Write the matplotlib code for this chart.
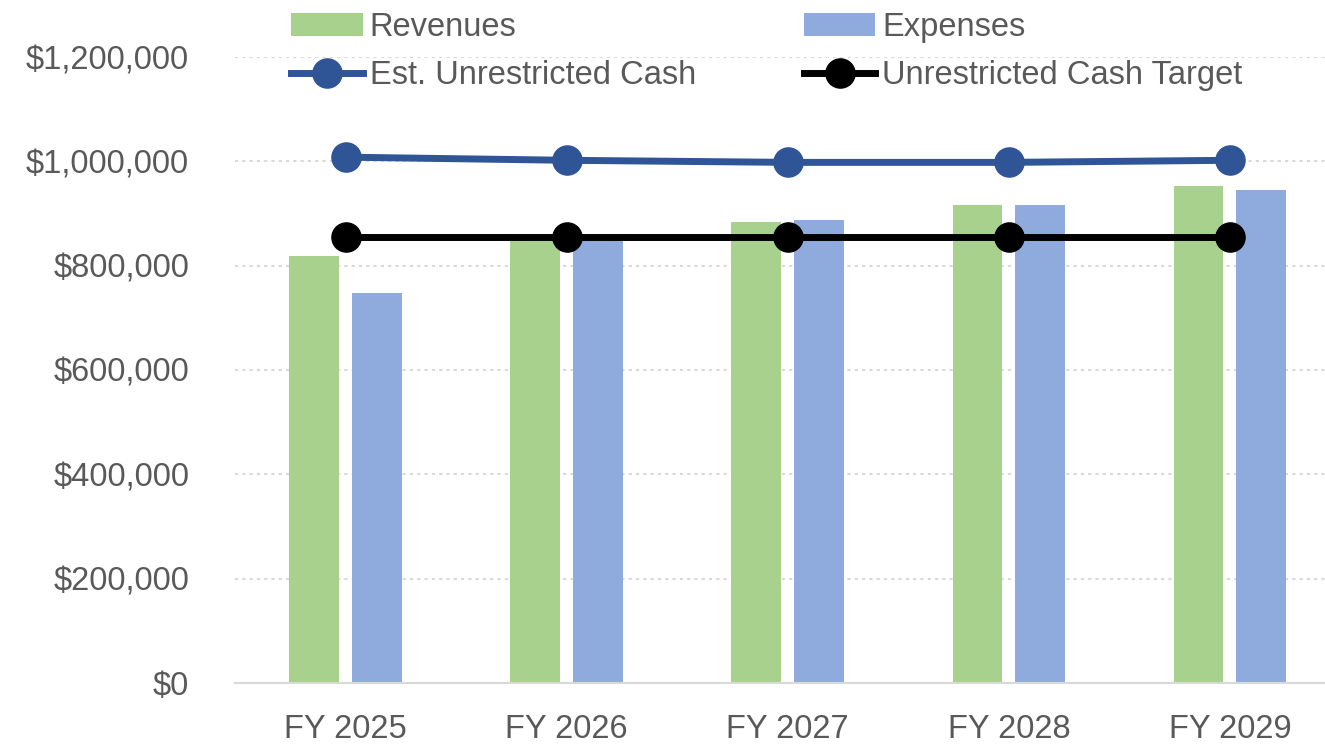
import matplotlib
matplotlib.use("Agg")
import matplotlib.pyplot as plt
import numpy as np

plt.rcParams["font.family"] = ["Liberation Sans", "DejaVu Sans"]

years    = ["FY 2025", "FY 2026", "FY 2027", "FY 2028", "FY 2029"]
revenues = [818000, 850000, 883000, 917000, 952000]
expenses = [747000, 850000, 887000, 916000, 945000]
est_cash = [1008000, 1002000, 998000, 998000, 1002000]
target   = [854000, 854000, 854000, 854000, 854000]

TXT = "#595959"
fig = plt.figure(figsize=(13.25, 7.44), dpi=100)
ax = fig.add_axes([235 / 1325, 1 - 683 / 744, 1090 / 1325, 626 / 744])

x = np.arange(len(years))
w = 0.225
b1 = ax.bar(x - 0.142, revenues, w, color="#A9D18E", zorder=2, label="Revenues")
b2 = ax.bar(x + 0.142, expenses, w, color="#8FAADC", zorder=2, label="Expenses")
l1, = ax.plot(x, est_cash, color="#2F5597", lw=5, marker="o", ms=21,
              zorder=3, label="Est. Unrestricted Cash")
l2, = ax.plot(x, target, color="black", lw=5, marker="o", ms=21,
              zorder=3, label="Unrestricted Cash Target")

ax.set_xlim(-0.5, 4.43)
ax.set_ylim(0, 1200000)
ax.set_yticks(np.arange(0, 1200001, 200000))
ax.set_yticklabels([f"${v:,.0f}" for v in np.arange(0, 1200001, 200000)])
ax.set_xticks(x)
ax.set_xticklabels(years)
ax.grid(axis="y", color="#D9D9D9", ls=(0, (1.5, 2)), lw=1.5, zorder=0)
for s in ["top", "right", "left"]:
    ax.spines[s].set_visible(False)
ax.spines["bottom"].set_color("#D9D9D9")
ax.spines["bottom"].set_linewidth(1.5)
ax.tick_params(length=0, labelsize=23.5, colors=TXT)
ax.tick_params(axis="x", pad=22)
ax.tick_params(axis="y", pad=33)

fig.legend([b1, l1, b2, l2],
           ["Revenues", "Est. Unrestricted Cash", "Expenses", "Unrestricted Cash Target"],
           ncol=2, frameon=False, fontsize=23.5, labelcolor=TXT,
           loc="upper left", bbox_to_anchor=(262 / 1325, 1.023),
           handlelength=2.2, handletextpad=0.2, columnspacing=3.3,
           labelspacing=0.52)

plt.savefig("out.png", dpi=100)
